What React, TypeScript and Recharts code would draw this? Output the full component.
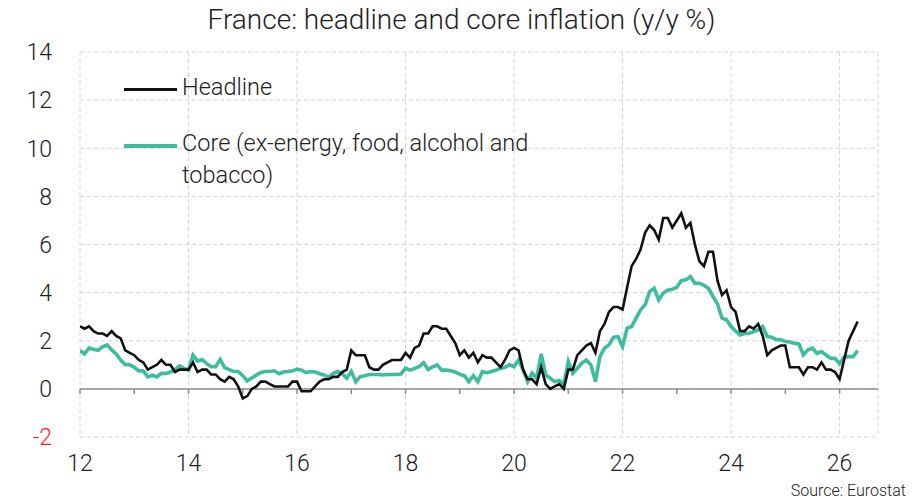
import React from 'react';
import { LineChart, Line, XAxis, YAxis, CartesianGrid, ReferenceLine, Legend } from 'recharts';

// monthly y/y %, Jan 2012 onwards
const headline = [
  2.6, 2.5, 2.6, 2.4, 2.3, 2.3, 2.2, 2.4, 2.2, 2.1, 1.6, 1.5, // 2012
  1.4, 1.2, 1.1, 0.8, 0.9, 1.0, 1.2, 1.0, 1.0, 0.7, 0.8, 0.8, // 2013
  0.8, 1.1, 0.7, 0.8, 0.8, 0.6, 0.6, 0.4, 0.3, 0.5, 0.4, 0.1, // 2014
  -0.4, -0.3, 0.0, 0.1, 0.3, 0.3, 0.2, 0.1, 0.1, 0.1, 0.1, 0.3, // 2015
  0.3, -0.1, -0.1, -0.1, 0.1, 0.3, 0.4, 0.4, 0.5, 0.5, 0.7, 0.8, // 2016
  1.6, 1.4, 1.4, 1.4, 0.9, 0.8, 0.8, 1.0, 1.1, 1.2, 1.2, 1.2, // 2017
  1.5, 1.3, 1.7, 1.8, 2.3, 2.3, 2.6, 2.6, 2.5, 2.5, 2.2, 1.9, // 2018
  1.4, 1.6, 1.3, 1.5, 1.1, 1.4, 1.3, 1.3, 1.1, 0.9, 1.2, 1.6, // 2019
  1.7, 1.6, 0.8, 0.4, 0.4, 0.2, 0.9, 0.2, 0.0, 0.1, 0.2, 0.0, // 2020
  0.8, 0.8, 1.4, 1.6, 1.8, 1.9, 1.5, 2.4, 2.7, 3.2, 3.4, 3.4, // 2021
  3.3, 4.2, 5.1, 5.4, 5.8, 6.5, 6.8, 6.6, 6.2, 7.1, 7.1, 6.7, // 2022
  7.0, 7.3, 6.7, 6.9, 6.0, 5.3, 5.1, 5.7, 5.7, 4.5, 3.9, 4.1, // 2023
  3.4, 3.2, 2.4, 2.4, 2.6, 2.5, 2.7, 2.2, 1.4, 1.6, 1.7, 1.8, // 2024
  1.8, 0.9, 0.9, 0.9, 0.6, 0.9, 0.9, 0.8, 1.1, 0.8, 0.8, 0.7, // 2025
  0.4, 1.2, 2.0, 2.4, 2.8, // 2026
];

const core = [
  1.6, 1.45, 1.7, 1.65, 1.6, 1.75, 1.83, 1.62, 1.45, 1.2, 1.0, 1.0, // 2012
  0.9, 0.75, 0.75, 0.5, 0.57, 0.5, 0.65, 0.64, 0.7, 0.8, 0.95, 0.85, // 2013
  0.78, 1.4, 1.15, 1.22, 1.05, 0.92, 0.92, 1.22, 0.88, 0.8, 0.72, 0.72, // 2014
  0.55, 0.33, 0.45, 0.57, 0.68, 0.72, 0.72, 0.75, 0.63, 0.7, 0.72, 0.75, // 2015
  0.82, 0.78, 0.68, 0.72, 0.7, 0.63, 0.58, 0.48, 0.65, 0.72, 0.63, 0.44, // 2016
  0.72, 0.3, 0.51, 0.55, 0.6, 0.6, 0.6, 0.58, 0.6, 0.6, 0.6, 0.62, // 2017
  0.86, 0.78, 0.85, 0.92, 1.09, 0.8, 0.92, 1.0, 0.78, 0.78, 0.75, 0.7, // 2018
  0.6, 0.55, 0.3, 0.55, 0.3, 0.72, 0.67, 0.72, 0.78, 0.85, 0.9, 1.0, // 2019
  0.92, 1.2, 0.79, 0.3, 0.65, 0.44, 1.45, 0.58, 0.44, 0.3, 0.35, 0.17, // 2020
  1.14, 0.65, 0.86, 1.07, 1.2, 1.0, 0.3, 1.34, 1.69, 1.83, 2.15, 2.17, // 2021
  1.76, 2.52, 2.59, 2.94, 3.28, 3.5, 4.04, 4.18, 3.7, 3.98, 4.1, 4.14, // 2022
  4.22, 4.5, 4.53, 4.67, 4.39, 4.39, 4.3, 4.18, 3.84, 3.53, 2.94, 2.87, // 2023
  2.59, 2.4, 2.24, 2.3, 2.31, 2.38, 2.45, 2.59, 2.17, 2.15, 2.04, 2.04, // 2024
  1.97, 1.95, 1.9, 1.87, 1.41, 1.62, 1.69, 1.48, 1.55, 1.41, 1.27, 1.27, // 2025
  1.04, 1.32, 1.34, 1.34, 1.59, // 2026
];

const xTicks = [0, 24, 48, 72, 96, 120, 144, 168];
const xTickLabels = ['12', '14', '16', '18', '20', '22', '24', '26'];
const yearMarks = [0, 12, 24, 36, 48, 60, 72, 84, 96, 108, 120, 132, 144, 156, 168];
const yTicks = [-2, 0, 2, 4, 6, 8, 10, 12, 14];

const data = headline.map((h, i) => ({ m: i, headline: h, core: core[i] }));

const FONT = 'Roboto, "Noto Sans", sans-serif';

const YTick = (props: any) => {
  const { x, y, payload } = props;
  return (
    <text x={x} y={y} dy="0.36em" textAnchor="end" fontSize={23} fontWeight={300} fill={payload.value < 0 ? '#ff1a1a' : '#222'}>
      {payload.value}
    </text>
  );
};

const XTick = (props: any) => {
  const { x, y, payload } = props;
  return (
    <text x={x} y={y} dy="0.71em" textAnchor="middle" fontSize={23} fontWeight={300} fill="#222">
      {xTickLabels[xTicks.indexOf(payload.value)]}
    </text>
  );
};

const renderLegend = (props: any) => {
  const items = [...(props.payload || [])].reverse();
  return (
    <div style={{ fontFamily: FONT, fontSize: 23.5, fontWeight: 300, color: '#222' }}>
      {items.map((it: any, i: number) => (
        <div key={it.value} style={{ display: 'flex', alignItems: 'flex-start', marginBottom: i === 0 ? 24 : 0 }}>
          <div
            style={{
              width: 53,
              height: i === 0 ? 3 : 4,
              background: it.color,
              marginTop: 17,
              marginRight: 5,
              flexShrink: 0,
            }}
          />
          <div style={{ width: 380, lineHeight: '32px' }}>{it.value}</div>
        </div>
      ))}
    </div>
  );
};

export default function App() {
  return (
    <div style={{ position: 'relative', width: 907, height: 495, fontFamily: FONT, fontWeight: 300, background: '#fff' }}>
      <div
        style={{
          position: 'absolute',
          top: -3,
          left: 0,
          width: 907,
          textAlign: 'center',
          fontSize: 28,
          lineHeight: '30px',
          color: '#222',
        }}
      >
        France: headline and core inflation (y/y %)
      </div>
      <LineChart width={907} height={487} data={data} margin={{ top: 44, right: 37, bottom: 18, left: 12 }}>
        <CartesianGrid stroke="#d4d4d4" strokeDasharray="4 3" />
        <XAxis
          dataKey="m"
          type="number"
          domain={[0, 176.5]}
          allowDataOverflow
          ticks={xTicks}
          tick={<XTick />}
          axisLine={false}
          tickLine={false}
          tickSize={0}
          tickMargin={18}
          height={40}
        />
        <YAxis
          domain={[-2, 14]}
          ticks={yTicks}
          allowDataOverflow
          tick={<YTick />}
          axisLine={false}
          tickLine={false}
          tickSize={0}
          tickMargin={28}
          width={60}
        />
        <ReferenceLine y={0} stroke="#8c8c8c" strokeWidth={1.5} />
        {yearMarks.map((m) => (
          <ReferenceLine key={m} segment={[{ x: m, y: 0 }, { x: m, y: -0.21 }]} stroke="#8c8c8c" strokeWidth={1.5} />
        ))}
        <Legend
          content={renderLegend}
          verticalAlign="middle"
          align="center"
          layout="vertical"
          wrapperStyle={{ position: 'absolute', left: 116, top: 63, width: 470, height: 'auto' }}
        />
        <Line
          type="linear"
          dataKey="core"
          name="Core (ex-energy, food, alcohol and tobacco)"
          stroke="#3dbd9d"
          strokeWidth={3.6}
          dot={false}
          isAnimationActive={false}
        />
        <Line
          type="linear"
          dataKey="headline"
          name="Headline"
          stroke="#111"
          strokeWidth={2.6}
          dot={false}
          isAnimationActive={false}
        />
      </LineChart>
      <div style={{ position: 'absolute', right: 9, top: 473, fontSize: 16, lineHeight: '20px', color: '#222' }}>
        Source: Eurostat
      </div>
    </div>
  );
}
